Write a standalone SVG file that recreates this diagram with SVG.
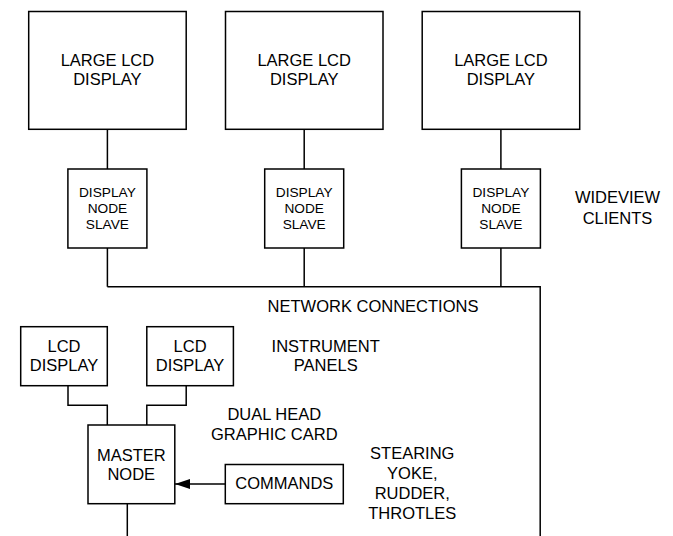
<svg xmlns="http://www.w3.org/2000/svg" width="673" height="536" viewBox="0 0 673 536">
<style>
.box{fill:#fff;stroke:#000;stroke-width:1.5}
.ln{fill:none;stroke:#000;stroke-width:1.5}
text{font-family:"Liberation Sans",Arial,sans-serif;font-size:16.5px;fill:#000;text-anchor:middle}
.s{font-size:13.7px}
</style>
<defs>
<marker id="ah" markerWidth="15" markerHeight="10" refX="15" refY="5" orient="auto" markerUnits="userSpaceOnUse">
<path d="M0,0 L15,5 L0,10 Z" fill="#000"/>
</marker>
</defs>
<g id="connectors">
<path class="ln" d="M107.4,129.3V169M304.2,129.3V169M500.9,129.3V169"/>
<path class="ln" d="M107.4,248V286.7M304.2,248V286.7M500.9,248V286.7M107.4,286.7H540.2V536"/>
<path class="ln" d="M68,385.7V405.3H107.3V425"/>
<path class="ln" d="M186.2,385.7V405.3H146.8V425"/>
<path class="ln" d="M127.3,503.7V536"/>
<path class="ln" d="M225.3,484H175" marker-end="url(#ah)"/>
</g>
<g id="large1"><rect class="box" x="28.7" y="11.5" width="157.5" height="117.8"/><text x="107.4" y="66.3">LARGE LCD</text><text x="107.4" y="85.3">DISPLAY</text></g>
<g id="large2"><rect class="box" x="225.5" y="11.5" width="157.5" height="117.8"/><text x="304.2" y="66.3">LARGE LCD</text><text x="304.2" y="85.3">DISPLAY</text></g>
<g id="large3"><rect class="box" x="422.2" y="11.5" width="157.5" height="117.8"/><text x="500.9" y="66.3">LARGE LCD</text><text x="500.9" y="85.3">DISPLAY</text></g>
<g id="slave1"><rect class="box" x="67.9" y="169" width="79" height="79"/><text class="s" x="107.4" y="196.7">DISPLAY</text><text class="s" x="107.4" y="213.1">NODE</text><text class="s" x="107.4" y="229.4">SLAVE</text></g>
<g id="slave2"><rect class="box" x="264.7" y="169" width="79" height="79"/><text class="s" x="304.2" y="196.7">DISPLAY</text><text class="s" x="304.2" y="213.1">NODE</text><text class="s" x="304.2" y="229.4">SLAVE</text></g>
<g id="slave3"><rect class="box" x="461.4" y="169" width="79" height="79"/><text class="s" x="500.9" y="196.7">DISPLAY</text><text class="s" x="500.9" y="213.1">NODE</text><text class="s" x="500.9" y="229.4">SLAVE</text></g>
<g id="wideview"><text x="617.5" y="203.4">WIDEVIEW</text><text x="617.5" y="223.8">CLIENTS</text></g>
<g id="network"><text x="373" y="312">NETWORK CONNECTIONS</text></g>
<g id="lcd1"><rect class="box" x="20.7" y="326.7" width="86.6" height="59"/><text x="64" y="351.7">LCD</text><text x="64" y="371">DISPLAY</text></g>
<g id="lcd2"><rect class="box" x="146.8" y="326.7" width="86.6" height="59"/><text x="190.1" y="351.7">LCD</text><text x="190.1" y="371">DISPLAY</text></g>
<g id="instrument"><text x="325.7" y="351.7">INSTRUMENT</text><text x="325.7" y="371">PANELS</text></g>
<g id="dualhead"><text x="274.3" y="420.3">DUAL HEAD</text><text x="274.3" y="440">GRAPHIC CARD</text></g>
<g id="master"><rect class="box" x="88" y="425" width="86.8" height="78.7"/><text x="131.3" y="460.5">MASTER</text><text x="131.3" y="480.3">NODE</text></g>
<g id="commands"><rect class="box" x="225.3" y="464.5" width="118" height="39.2"/><text x="284.3" y="489">COMMANDS</text></g>
<g id="stearing"><text x="412.3" y="459">STEARING</text><text x="412.3" y="478.8">YOKE,</text><text x="412.3" y="498.7">RUDDER,</text><text x="412.3" y="518.8">THROTLES</text></g>
</svg>
